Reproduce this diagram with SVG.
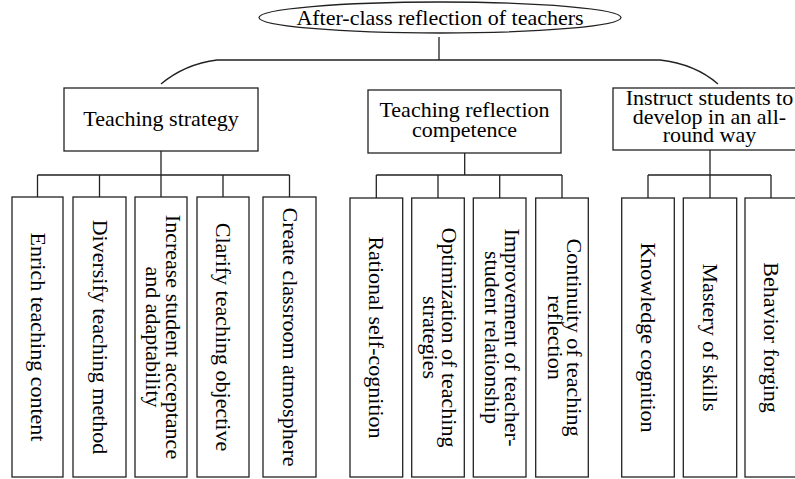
<svg xmlns="http://www.w3.org/2000/svg" width="795" height="479" viewBox="0 0 795 479">
<style>
.b{fill:#fff;stroke:#222;stroke-width:1.3}
.c{fill:none;stroke:#222;stroke-width:1.3}
text{font-family:"Liberation Serif","Times New Roman",serif;font-size:22px;fill:#000;text-anchor:middle}
</style>
<rect width="795" height="479" fill="#fff"/>
<g id="connectors" class="c">
<path d="M439 37V60M161 84Q185 64 217 60H660Q695 64 718 84"/>
<path d="M161 151V175M37.5 175H289.5M37.5 175V197M99.5 175V197M161 175V197M223 175V197M289.5 175V197"/>
<path d="M464.7 153V175M376.3 175H562M376.3 175V198M438 175V198M499.7 175V198M562 175V198"/>
<path d="M710 150V175M648 175H771M648 175V198M710 175V198M771 175V198"/>
</g>
<g id="root"><ellipse class="b" cx="440" cy="17.5" rx="181" ry="15.5"/><text x="440" y="25">After-class reflection of teachers</text></g>
<g id="strategy"><rect class="b" x="64" y="88" width="194" height="63"/><text x="161" y="126">Teaching strategy</text></g>
<g id="competence"><rect class="b" x="368" y="90" width="193" height="63"/><text x="464.5" y="116.5">Teaching reflection</text><text x="464.5" y="136.5">competence</text></g>
<g id="allround"><rect class="b" x="613" y="88" width="194" height="62"/><text x="709.5" y="105">Instruct students to</text><text x="709.5" y="123.5">develop in an all-</text><text x="709.5" y="142">round way</text></g>

<g id="s1"><rect class="b" x="12" y="197" width="51" height="280"/><text transform="translate(37.5,337) rotate(90)" y="7">Enrich teaching content</text></g>
<g id="s2"><rect class="b" x="73" y="197" width="53" height="280"/><text transform="translate(99.5,337) rotate(90)" y="7">Diversify teaching method</text></g>
<g id="s3"><rect class="b" x="135" y="197" width="52" height="280"/><g transform="translate(161,337) rotate(90)"><text y="-5">Increase student acceptance</text><text y="15">and adaptability</text></g></g>
<g id="s4"><rect class="b" x="197" y="197" width="52" height="280"/><text transform="translate(223,337) rotate(90)" y="7">Clarify teaching objective</text></g>
<g id="s5"><rect class="b" x="263" y="197" width="53" height="280"/><text transform="translate(289.5,337) rotate(90)" y="7">Create classroom atmosphere</text></g>

<g id="c1"><rect class="b" x="350" y="198" width="52.7" height="279"/><text transform="translate(376.3,337.5) rotate(90)" y="7">Rational self-cognition</text></g>
<g id="c2"><rect class="b" x="411.7" y="198" width="52.6" height="279"/><g transform="translate(438,337.5) rotate(90)"><text y="-4">Optimization of teaching</text><text y="15.5">strategies</text></g></g>
<g id="c3"><rect class="b" x="473.3" y="198" width="52.7" height="279"/><g transform="translate(499.7,337.5) rotate(90)"><text y="-5.5">Improvement of teacher-</text><text y="15">student relationship</text></g></g>
<g id="c4"><rect class="b" x="535.7" y="198" width="52.6" height="279"/><g transform="translate(562,337.5) rotate(90)"><text y="-5">Continuity of teaching</text><text y="14.5">reflection</text></g></g>

<g id="a1"><rect class="b" x="621.7" y="198" width="52.6" height="279"/><text transform="translate(648,337.5) rotate(90)" y="7">Knowledge cognition</text></g>
<g id="a2"><rect class="b" x="683.3" y="198" width="53.4" height="279"/><text transform="translate(710,337.5) rotate(90)" y="7">Mastery of skills</text></g>
<g id="a3"><rect class="b" x="745" y="198" width="53" height="279"/><text transform="translate(771,337.5) rotate(90)" y="7">Behavior forging</text></g>
</svg>
